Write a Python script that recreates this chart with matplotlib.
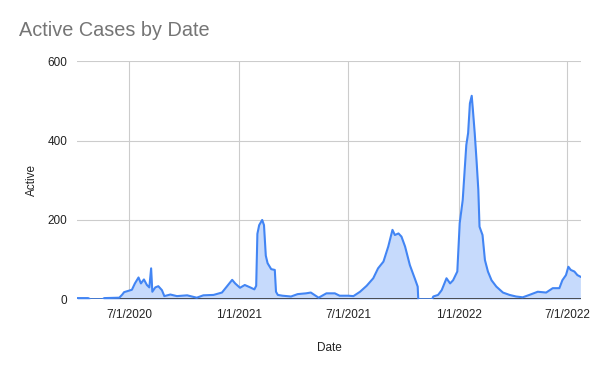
import numpy as np
import pandas as pd
import matplotlib
matplotlib.use("Agg")
import matplotlib.pyplot as plt
import matplotlib.dates as mdates

# values (date, active cases)
dates = [
    "2020-04-06", "2020-04-24", "2020-04-28", "2020-05-18", "2020-05-21", "2020-06-15",
    "2020-06-20", "2020-06-23", "2020-07-06", "2020-07-11", "2020-07-17", "2020-07-21",
    "2020-07-26", "2020-07-31", "2020-08-04", "2020-08-07", "2020-08-09", "2020-08-14",
    "2020-08-19", "2020-08-25", "2020-08-29", "2020-09-08", "2020-09-19", "2020-10-06",
    "2020-10-22", "2020-11-02", "2020-11-19", "2020-12-03", "2020-12-11", "2020-12-20",
    "2020-12-25", "2021-01-02", "2021-01-10", "2021-01-19", "2021-01-26", "2021-01-29",
    "2021-01-31", "2021-02-03", "2021-02-08", "2021-02-11", "2021-02-14", "2021-02-17",
    "2021-02-23", "2021-03-01", "2021-03-03", "2021-03-06", "2021-03-14", "2021-03-28",
    "2021-04-08", "2021-04-22", "2021-04-30", "2021-05-13", "2021-05-26", "2021-06-09",
    "2021-06-17", "2021-07-01", "2021-07-10", "2021-07-21", "2021-08-01", "2021-08-12",
    "2021-08-20", "2021-08-29", "2021-09-06", "2021-09-13", "2021-09-17", "2021-09-23",
    "2021-09-28", "2021-10-04", "2021-10-12", "2021-10-21", "2021-10-25", "2021-10-26",
    "2021-11-18", "2021-11-20", "2021-11-28", "2021-12-04", "2021-12-12", "2021-12-18",
    "2021-12-23", "2021-12-30", "2022-01-03", "2022-01-08", "2022-01-12", "2022-01-14",
    "2022-01-17", "2022-01-20", "2022-01-23", "2022-01-25", "2022-01-28", "2022-01-31",
    "2022-02-03", "2022-02-05", "2022-02-10", "2022-02-14", "2022-02-19", "2022-02-25",
    "2022-03-05", "2022-03-16", "2022-03-27", "2022-04-07", "2022-04-18", "2022-04-29",
    "2022-05-13", "2022-05-27", "2022-06-07", "2022-06-18", "2022-06-23", "2022-06-29",
    "2022-07-03", "2022-07-07", "2022-07-13", "2022-07-18", "2022-07-23",
]
active = [
    3, 3, 0, 0, 3, 4,
    12, 18, 24, 40, 55, 40,
    50, 36, 30, 78, 19, 30,
    33, 23, 8, 12, 8, 10,
    4, 10, 11, 17, 32, 49,
    40, 29, 36, 30, 25, 34,
    165, 187, 200, 187, 110, 91,
    76, 74, 19, 11, 9, 7,
    13, 15, 17, 4, 15, 15,
    9, 9, 8, 19, 34, 53,
    78, 95, 133, 175, 162, 166,
    158, 133, 86, 49, 32, 0,
    0, 7, 11, 23, 53, 40,
    48, 70, 192, 250, 343, 389,
    419, 494, 513, 477, 419, 351,
    276, 183, 162, 99, 70, 48,
    32, 17, 11, 7, 5, 11,
    19, 17, 28, 28, 48, 61,
    82, 74, 70, 61, 57,
]
x_ticks = ["2020-07-01", "2021-01-01", "2021-07-01", "2022-01-01", "2022-07-01"]
y_ticks = [0, 200, 400, 600]

d = pd.to_datetime(dates)
v = np.array(active)

fig = plt.figure(figsize=(6, 3.71), dpi=100)
ax = fig.add_axes([0.1288, 0.1933, 0.8395, 0.6415])

ax.fill_between(d, v, 0, color="#c6dafc", lw=0, zorder=2)
ax.axhline(0, color="#333333", lw=1.2, zorder=2.5)
ax.plot(d, v, color="#4285f4", lw=1.5, zorder=3)

ax.set_xlim(pd.Timestamp("2020-04-06"), pd.Timestamp("2022-07-24"))
ax.set_ylim(0, 600)
ax.set_xticks(pd.to_datetime(x_ticks))
ax.xaxis.set_major_formatter(mdates.DateFormatter("%-m/%-d/%Y"))
ax.set_yticks(y_ticks)
ax.grid(True, color="#cccccc", lw=0.8)
ax.set_axisbelow(True)
for s in ax.spines.values():
    s.set_visible(False)
ax.tick_params(length=0, labelsize=8.5, labelcolor="#222222", pad=7)
for lab in ax.get_xticklabels() + ax.get_yticklabels():
    lab.set_family("Liberation Sans")

ax.set_xlabel("Date", fontsize=8.5, family="Liberation Sans", color="#222222", labelpad=15)
ax.set_ylabel("Active", fontsize=8.5, family="Liberation Sans", color="#222222", labelpad=7)

fig.text(19 / 600, 1 - 31 / 371, "Active Cases by Date", fontsize=14.3, color="#757575",
         family="Liberation Sans", va="center", ha="left")

fig.savefig("out.png", dpi=100)
